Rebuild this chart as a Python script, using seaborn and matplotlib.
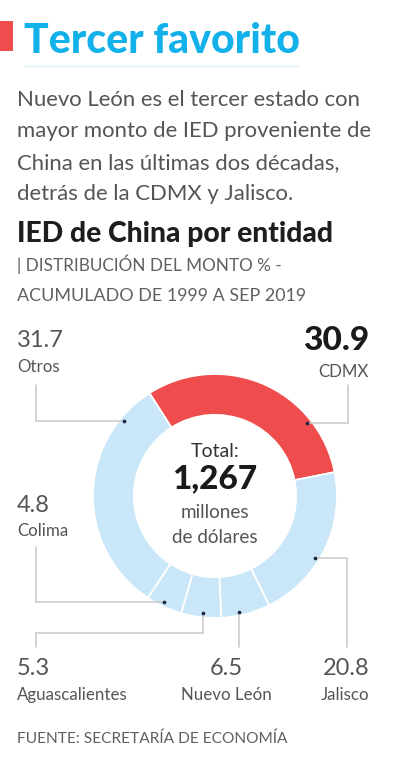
import matplotlib
matplotlib.use("Agg")
import matplotlib.pyplot as plt
import numpy as np
import seaborn as sns

# ---- data ----
entidades = ["CDMX", "Jalisco", "Nuevo León", "Aguascalientes", "Colima", "Otros"]
porcentajes = [30.9, 20.8, 6.5, 5.3, 4.8, 31.7]
total_mdd = "1,267"
titulo = "Tercer favorito"
parrafo = ["Nuevo León es el tercer estado con",
           "mayor monto de IED proveniente de",
           "China en las últimas dos décadas,",
           "detrás de la CDMX y Jalisco."]
subtitulo = "IED de China por entidad"
nota = ["| DISTRIBUCIÓN DEL MONTO % -", "ACUMULADO DE 1999 A SEP 2019"]
fuente = "FUENTE: SECRETARÍA DE ECONOMÍA"

RED = "#ef4d4d"
LBLUE = "#c9e7f8"
TBLUE = "#12b1ea"
GRAY = "#555555"
LINE = "#c8c8c8"

sns.set_theme(style="white")
plt.rcParams["font.family"] = ["Lato", "DejaVu Sans"]

W, H = 395, 768
fig = plt.figure(figsize=(W / 100, H / 100), dpi=100)
ax = fig.add_axes([0, 0, 1, 1])

def Y(py):
    return H - py

def txt(x, y, s, size, color=GRAY, weight="normal", ha="left", **kw):
    ax.text(x, Y(y), s, fontsize=size, color=color, fontweight=weight,
            ha=ha, va="baseline", **kw)

# header
ax.add_patch(plt.Rectangle((0, Y(51)), 13, 30, color=RED, lw=0))
txt(24, 53, titulo, 29.5, color=TBLUE, weight="black")
ax.plot([25, 298], [Y(66), Y(66)], color="#d6effb", lw=0.8)
for i, line in enumerate(parrafo):
    txt(17, 106 + i * 31.3, line, 15.9, color="#555555")
txt(17, 242, subtitulo, 20.3, color="#1e1e1e", weight="black")
txt(17, 271, nota[0], 12.3, color="#606060")
txt(17, 301, nota[1], 12.9, color="#606060")

# donut
cx, cy, R = 215, 496, 122
colors = [RED] + [LBLUE] * (len(porcentajes) - 1)
start = 90 + 32.5
wedges, _ = ax.pie(porcentajes, colors=colors, startangle=start, counterclock=False,
                   radius=R, center=(cx, Y(cy)), frame=True,
                   wedgeprops=dict(width=R * 0.335, edgecolor="white", linewidth=1.3))
ax.set_aspect("auto")
ax.set_xlim(0, W)
ax.set_ylim(0, H)
ax.axis("off")

# leader dots: position within each slice (fraction of slice)
frac_in = [0.755, 0.577, 0.63, 0.47, 0.56, 0.84]
cum = np.concatenate([[0], np.cumsum(porcentajes)]) / sum(porcentajes) * 360
dots = []
for i, f in enumerate(frac_in):
    a = np.deg2rad(start - (cum[i] + f * (cum[i + 1] - cum[i])))
    dots.append((cx + (R - 4) * np.cos(a), Y(cy) + (R - 4) * np.sin(a)))
dots = dict(zip(entidades, dots))

def path(pts):
    xs = [p[0] for p in pts]
    ys = [p[1] for p in pts]
    ax.plot(xs, ys, color=LINE, lw=1.1, solid_joinstyle="miter", zorder=3)

d = dots["CDMX"]; path([d, (348, d[1]), (348, Y(385))])
d = dots["Otros"]; path([d, (36, d[1]), (36, Y(385))])
d = dots["Jalisco"]; path([d, (347, d[1]), (347, Y(647))])
d = dots["Nuevo León"]; path([d, (d[0], Y(647))])
d = dots["Aguascalientes"]; path([d, (d[0], Y(633)), (36, Y(633)), (36, Y(647))])
d = dots["Colima"]; path([d, (36, d[1]), (36, Y(547))])
sns.scatterplot(x=[p[0] for p in dots.values()], y=[p[1] for p in dots.values()],
                ax=ax, color="#1b2440", s=7, linewidth=0, zorder=4, legend=False)
ax.set_xlim(0, W); ax.set_ylim(0, H); ax.axis("off")

val = dict(zip(entidades, porcentajes))
fmt = lambda v: f"{v:.1f}"
# labels
txt(17, 347, fmt(val["Otros"]), 17)
txt(17, 372, "Otros", 12.2)
txt(369, 350, fmt(val["CDMX"]), 24, color="#1a1a1a", weight="black", ha="right")
txt(369, 377, "CDMX", 12.2, ha="right")
txt(17, 512, fmt(val["Colima"]), 17)
txt(17, 536, "Colima", 12.2)
txt(17, 675, fmt(val["Aguascalientes"]), 17)
txt(17, 700, "Aguascalientes", 12.2)
txt(226, 675, fmt(val["Nuevo León"]), 17, ha="center")
txt(226, 700, "Nuevo León", 12.2, ha="center")
txt(369, 675, fmt(val["Jalisco"]), 17, ha="right")
txt(369, 700, "Jalisco", 12.2, ha="right")

# center
txt(cx, 457, "Total:", 14, color="#333333", ha="center")
txt(cx, 488, total_mdd, 24, color="#1a1a1a", weight="black", ha="center")
txt(cx, 518, "millones", 13.6, ha="center")
txt(cx, 543, "de dólares", 13.6, ha="center")

txt(17, 743, fuente, 11.2, color="#606060")

fig.savefig("out.png", dpi=100)
